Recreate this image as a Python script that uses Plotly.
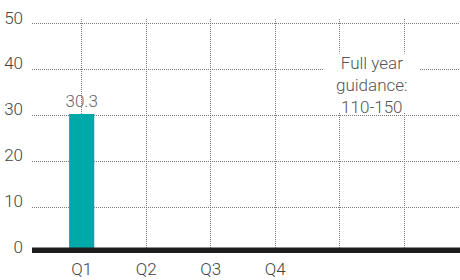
import plotly.graph_objects as go

categories = ["Q1", "Q2", "Q3", "Q4", " ", "  "]
values = [30.3, None, None, None, None, None]
value_labels = ["30.3", "", "", "", "", ""]
y_ticks = [0, 10, 20, 30, 40, 50]
note_text = "Full year<br>guidance:<br>110-150"
note_x, note_y = 4.5, 36.7

FONT = "Roboto"
GRID = "#7a7a7a"
fig = go.Figure()
fig.add_trace(go.Bar(
    x=categories, y=values, text=value_labels, textposition="outside",
    constraintext="none",
    textfont=dict(family=FONT, size=17, color="#666", weight=300),
    marker=dict(color="#00a9a9", line=dict(width=0)),
    width=0.39, cliponaxis=False, hoverinfo="skip",
))
fig.add_shape(type="rect", xref="paper", x0=0, x1=1, yref="y", ysizemode="pixel",
              yanchor=0, y0=0, y1=5.4, fillcolor="#1e1e1e", line=dict(width=0), layer="above")
# white backing box behind the guidance note
fig.add_shape(type="rect", xref="x", yref="y", xsizemode="pixel", ysizemode="pixel",
              xanchor=note_x, yanchor=note_y, x0=-49, x1=47, y0=-28.5, y1=31,
              fillcolor="white", line=dict(width=0), layer="above")
fig.add_annotation(x=note_x, y=note_y, xref="x", yref="y", text=note_text, showarrow=False,
                   font=dict(family=FONT, size=17, color="#555", weight=300),
                   align="center")
fig.update_layout(
    width=460, height=280, margin=dict(l=32, r=0, t=19, b=27),
    paper_bgcolor="white", plot_bgcolor="white", showlegend=False,
    font=dict(family=FONT, size=16, color="#444", weight=300),
    xaxis=dict(type="category", categoryorder="array", categoryarray=categories,
               range=[-0.77, 5.865], showgrid=True, gridcolor=GRID, griddash="1px,1px",
               gridwidth=1, zeroline=False, showline=False, ticks="", automargin=False,
               ticklabelstandoff=4,
               tickfont=dict(family=FONT, size=17, color="#444", weight=300)),
    yaxis=dict(range=[0, 51], tickvals=y_ticks, showgrid=True, gridcolor=GRID,
               griddash="1px,1px", gridwidth=1, zeroline=False, showline=False, ticks="",
               ticklabelshift=-6, ticklabelstandoff=8, automargin=False,
               tickfont=dict(family=FONT, size=17, color="#444", weight=300)),
    bargap=0.6,
)
fig.write_html("out.html", config={"displayModeBar": False},
               post_script="document.body.style.margin='0';document.body.style.overflow='hidden';")
